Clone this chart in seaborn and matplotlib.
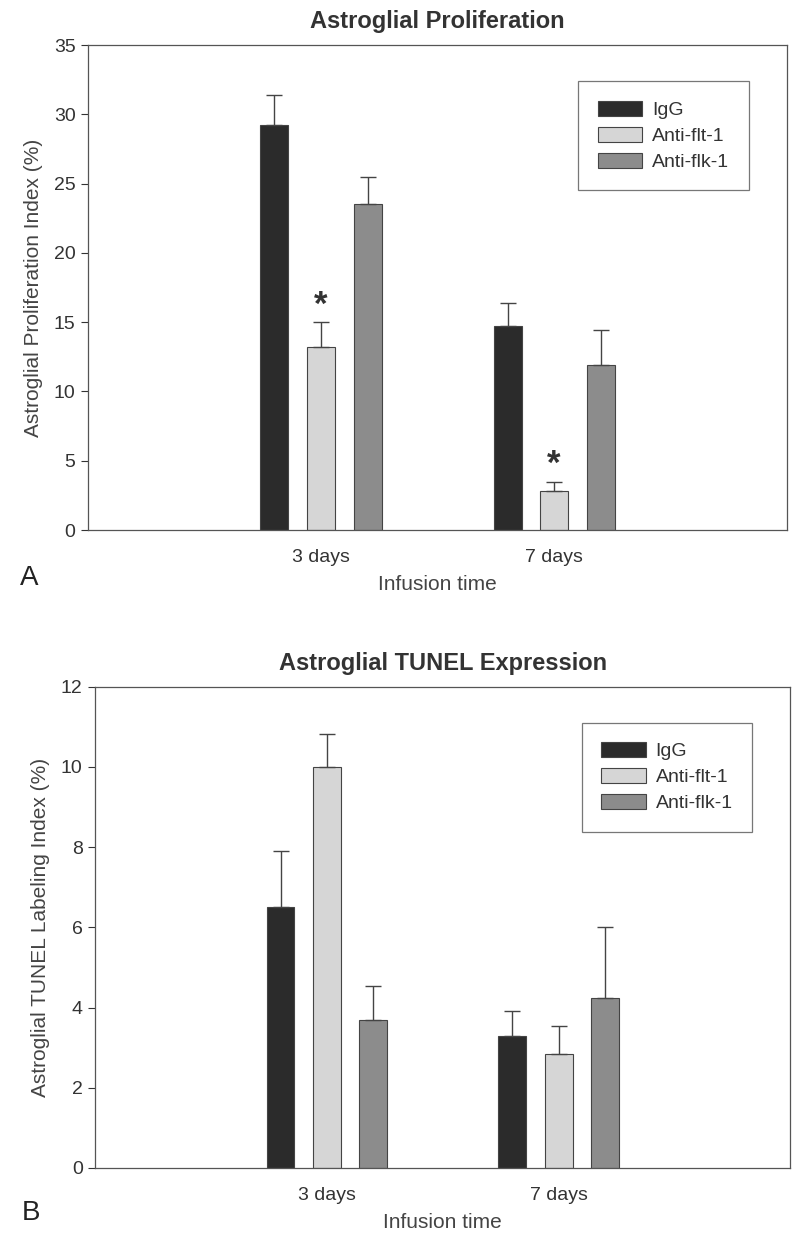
import matplotlib
matplotlib.use("Agg")
import matplotlib.pyplot as plt
import seaborn as sns
import pandas as pd

# data
days = ["3 days", "7 days"]
groups = ["IgG", "Anti-flt-1", "Anti-flk-1"]

# panel A: astroglial proliferation index (%)
prolif_igg = [29.2, 14.7]
prolif_flt = [13.2, 2.8]
prolif_flk = [23.5, 11.9]
prolif_err_igg = [2.2, 1.7]
prolif_err_flt = [1.8, 0.7]
prolif_err_flk = [2.0, 2.5]
prolif_star = [True, True]  # asterisk over Anti-flt-1 bars

# panel B: astroglial TUNEL labeling index (%)
tunel_igg = [6.5, 3.3]
tunel_flt = [10.0, 2.84]
tunel_flk = [3.68, 4.24]
tunel_err_igg = [1.4, 0.62]
tunel_err_flt = [0.82, 0.70]
tunel_err_flk = [0.86, 1.78]

colors = ["#2b2b2b", "#d6d6d6", "#8c8c8c"]

sns.set_style("ticks")
FONT = ["Liberation Sans", "DejaVu Sans"]
plt.rcParams["font.family"] = FONT


def long_frame(igg, flt, flk):
    rows = []
    for g, vals in zip(groups, [igg, flt, flk]):
        for d, v in zip(days, vals):
            rows.append({"day": d, "group": g, "value": v})
    return pd.DataFrame(rows)


def draw_panel(ax, df, errs, title, ylabel, ymax, ystep, stars=None):
    sns.barplot(data=df, x="day", y="value", hue="group", hue_order=groups,
                palette=colors, errorbar=None, width=0.6, gap=0.4,
                edgecolor="#444444", linewidth=0.8, saturation=1, ax=ax)
    # upper error bars only
    for cont, err in zip(ax.containers, errs):
        for bar, e in zip(cont, err):
            xc = bar.get_x() + bar.get_width() / 2
            h = bar.get_height()
            ax.errorbar(xc, h, yerr=[[0], [e]], fmt="none", ecolor="#444444",
                        elinewidth=1.0, capsize=6, capthick=1.0)
    if stars is not None:
        cont = ax.containers[1]
        for bar, e, s in zip(cont, errs[1], stars):
            if s:
                xc = bar.get_x() + bar.get_width() / 2
                ax.text(xc, bar.get_height() + e + ymax * 0.035, "*",
                        ha="center", va="center", fontsize=25,
                        fontweight="bold", color="#333333")
    ax.set_xlim(-1, 2)
    ax.set_ylim(0, ymax)
    ax.set_yticks(range(0, ymax + 1, ystep))
    ax.tick_params(axis="y", labelsize=14, length=5, width=0.8,
                   colors="#333333", pad=4)
    ax.tick_params(axis="x", labelsize=14, length=0, pad=14, colors="#333333")
    for sp in ax.spines.values():
        sp.set_visible(True)
        sp.set_color("#555555")
        sp.set_linewidth(0.9)
    ax.set_title(title, fontsize=17, fontweight="bold", color="#333333", pad=12)
    ax.set_ylabel(ylabel, fontsize=15, color="#444444", labelpad=8)
    ax.set_xlabel("Infusion time", fontsize=15, color="#444444", labelpad=6)
    leg = ax.legend(loc="upper right", bbox_to_anchor=(0.945, 0.925),
                    borderaxespad=0, fontsize=14, frameon=True, fancybox=False,
                    handlelength=2.3, handleheight=0.8, borderpad=1.0,
                    labelspacing=0.4, handletextpad=0.5, title=None)
    leg.get_frame().set_edgecolor("#555555")
    leg.get_frame().set_linewidth(0.9)
    for t in leg.get_texts():
        t.set_color("#333333")


fig = plt.figure(figsize=(8, 12.34), dpi=100)
ax1 = fig.add_axes([0.11, 0.5705, 0.874, 0.393])
ax2 = fig.add_axes([0.119, 0.0535, 0.869, 0.39])

draw_panel(ax1, long_frame(prolif_igg, prolif_flt, prolif_flk),
           [prolif_err_igg, prolif_err_flt, prolif_err_flk],
           "Astroglial Proliferation", "Astroglial Proliferation Index (%)",
           35, 5, stars=prolif_star)
draw_panel(ax2, long_frame(tunel_igg, tunel_flt, tunel_flk),
           [tunel_err_igg, tunel_err_flt, tunel_err_flk],
           "Astroglial TUNEL Expression", "Astroglial TUNEL Labeling Index (%)",
           12, 2)

fig.text(0.025, 1 - 578 / 1234, "A", fontsize=20, va="center", color="#222222")
fig.text(0.027, 1 - 1213 / 1234, "B", fontsize=20, va="center", color="#222222")

fig.savefig("out.png", dpi=100)
